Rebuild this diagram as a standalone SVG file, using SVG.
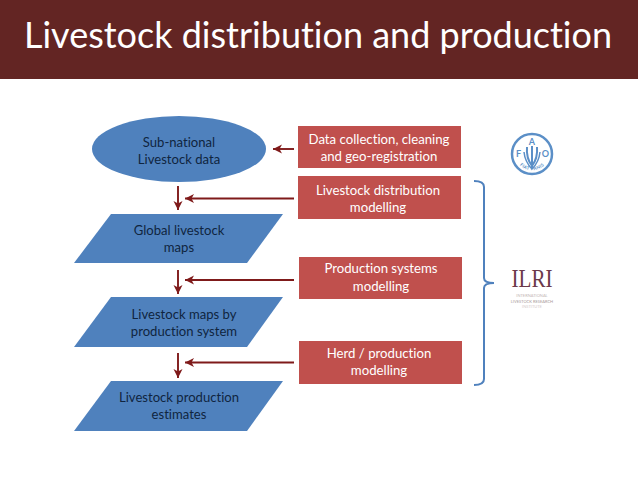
<svg xmlns="http://www.w3.org/2000/svg" width="638" height="479" viewBox="0 0 638 479">
<style>
text{font-family:Lato,"Liberation Sans",sans-serif;text-anchor:middle;font-variant-ligatures:none}
.b{fill:#4f81bd}
.r{fill:#c0504d}
.bt{font-size:13.100px;fill:#10253f}
.rt{font-size:13.200px;fill:#fff}
.c{fill:none;stroke:#7f1a1a;stroke-width:1.900}
.f{fill:#5b8fc7;font-weight:700}
</style>
<defs>
<marker id="a" markerUnits="userSpaceOnUse" markerWidth="11" markerHeight="10" refX="9" refY="5" orient="auto"><path d="M0 0.500 L9 5 L0 9.500 L2.500 5Z" fill="#7f1a1a"/></marker>
<path id="arc" d="M516 159A17 17 0 0 0 548 159"/>
</defs>
<rect width="638" height="479" fill="#fff"/>
<g id="title"><rect width="638" height="79" fill="#632523"/>
<text x="318" y="48" font-size="36" fill="#fff">Livestock distribution and production</text></g>
<g id="connectors">
<path class="c" marker-end="url(#a)" d="M294 149H273"/>
<path class="c" marker-end="url(#a)" d="M294 198.500H185"/>
<path class="c" marker-end="url(#a)" d="M294 280H185"/>
<path class="c" marker-end="url(#a)" d="M294 362.500H185"/>
<path class="c" marker-end="url(#a)" d="M178 186V210"/>
<path class="c" marker-end="url(#a)" d="M178 270V294"/>
<path class="c" marker-end="url(#a)" d="M178 353V378"/>
</g>
<g id="n1"><ellipse class="b" cx="179" cy="149" rx="87" ry="33"/><text class="bt" x="179" y="147">Sub-national</text><text class="bt" x="179" y="164">Livestock data</text></g>
<g id="n2"><path class="b" d="M111 214H283L247 263H74Z"/><text class="bt" x="179" y="235">Global livestock</text><text class="bt" x="179" y="252">maps</text></g>
<g id="n3"><path class="b" d="M111 297H283L247 347H74Z"/><text class="bt" x="184" y="319">Livestock maps by</text><text class="bt" x="184" y="336">production system</text></g>
<g id="n4"><path class="b" d="M111 381H283L247 431H74Z"/><text class="bt" x="179" y="402">Livestock production</text><text class="bt" x="179" y="419">estimates</text></g>
<g id="r1"><rect class="r" x="298" y="126" width="163" height="42"/><text class="rt" x="379" y="144">Data collection, cleaning</text><text class="rt" x="379" y="161">and geo-registration</text></g>
<g id="r2"><rect class="r" x="298" y="176" width="163" height="43"/><text class="rt" x="378" y="195">Livestock distribution</text><text class="rt" x="378" y="212">modelling</text></g>
<g id="r3"><rect class="r" x="299" y="257" width="163" height="42"/><text class="rt" x="381" y="273">Production systems</text><text class="rt" x="381" y="291">modelling</text></g>
<g id="r4"><rect class="r" x="299" y="341" width="163" height="43"/><text class="rt" x="379" y="358">Herd / production</text><text class="rt" x="379" y="375">modelling</text></g>
<g id="brace"><path d="M474 181Q484 181 484 187V278Q484 283 494 283Q484 283 484 288V379Q484 385 474 385" fill="none" stroke="#4f81bd" stroke-width="2"/></g>
<g id="fao"><circle cx="532" cy="154" r="20" fill="none" stroke="#5b8fc7" stroke-width="2.500"/>
<path d="M532 146V168M527 147Q526 158 532 166Q538 158 537 147" fill="none" stroke="#5b8fc7" stroke-width="2"/>
<path d="M524 152Q525 162 532 169Q539 162 540 152" fill="none" stroke="#5b8fc7" stroke-width="1.500"/>
<text class="f" x="518.500" y="157" font-size="9">F</text><text class="f" x="532" y="145" font-size="9">A</text><text class="f" x="545.500" y="157" font-size="9">O</text>
<text class="f" font-size="4.500" style="letter-spacing:.4px"><textPath href="#arc" startOffset="50%">FIAT PANIS</textPath></text></g>
<g id="ilri"><text x="532" y="286.500" font-size="26" fill="#6b3a4a" textLength="41" lengthAdjust="spacingAndGlyphs" style="font-family:'Liberation Serif',serif">ILRI</text>
<text x="532" y="297" font-size="4" fill="#c4b6b6">INTERNATIONAL</text><text x="532" y="302.500" font-size="4" fill="#a99a9a">LIVESTOCK RESEARCH</text><text x="532" y="308" font-size="4" fill="#d5cccc">INSTITUTE</text></g>
</svg>
